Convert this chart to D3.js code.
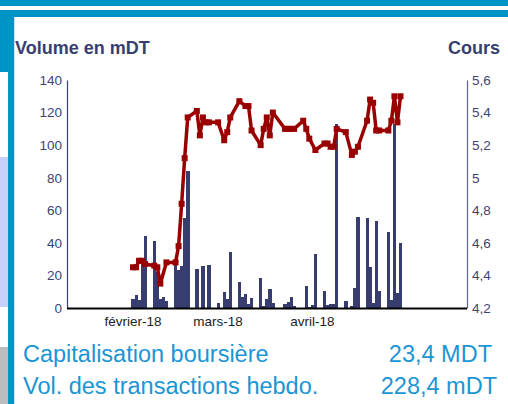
<!DOCTYPE html>
<html>
<head>
<meta charset="utf-8">
<script src="https://cdn.jsdelivr.net/npm/d3@7"></script>
<style>
  html, body { margin: 0; padding: 0; background: #fff; }
  svg { display: block; font-family: Arial, "Liberation Sans", sans-serif; }
</style>
</head>
<body>
<svg id="chart" width="508" height="404"></svg>
<script>
// Daily traded volume (mDT)
const volumeDates = [
  "2018-02-01","2018-02-02","2018-02-03","2018-02-04","2018-02-05","2018-02-08","2018-02-09","2018-02-10",
  "2018-02-11","2018-02-12","2018-02-15","2018-02-16","2018-02-17","2018-02-18","2018-02-19","2018-02-22",
  "2018-02-24","2018-02-26","2018-03-01","2018-03-03","2018-03-04","2018-03-05","2018-03-08","2018-03-09",
  "2018-03-10","2018-03-11","2018-03-12","2018-03-15","2018-03-16","2018-03-17","2018-03-18","2018-03-19",
  "2018-03-23","2018-03-24","2018-03-25","2018-03-26","2018-03-30","2018-03-31","2018-04-01","2018-04-02",
  "2018-04-05","2018-04-06","2018-04-07","2018-04-08","2018-04-09","2018-04-12","2018-04-14","2018-04-15",
  "2018-04-16","2018-04-19","2018-04-20","2018-04-21","2018-04-22","2018-04-23","2018-04-26","2018-04-27",
  "2018-04-28","2018-04-29","2018-04-30"
];
const volumeValues = [
  5.5, 8, 5, 27, 44, 41, 22, 5.5,
  7, 4.5, 27.4, 23.3, 25.8, 55.4, 84, 24,
  25.8, 26.4, 3.2, 9.8, 5.4, 34.4, 16, 6.7,
  8.6, 2.5, 6.3, 18.4, 1, 5.4, 11.7, 3.3,
  2.5, 3.9, 6.7, 1, 13.5, 0.4, 2, 33.2,
  10.4, 1.8, 2.4, 2.3, 113, 4.3, 1.2, 12,
  55.8, 55.2, 25.2, 2.9, 53.4, 10.4, 46.7, 4.9,
  113, 9.2, 40
];

// Closing price (right axis)
const priceDates = [
  "2018-02-01","2018-02-02","2018-02-03","2018-02-04","2018-02-05","2018-02-08","2018-02-09","2018-02-10",
  "2018-02-12","2018-02-15","2018-02-16","2018-02-17","2018-02-18","2018-02-19","2018-02-22","2018-02-23",
  "2018-02-24","2018-02-25","2018-02-26","2018-03-01","2018-03-03","2018-03-04","2018-03-05","2018-03-08",
  "2018-03-10","2018-03-11","2018-03-12","2018-03-15","2018-03-16","2018-03-17","2018-03-18","2018-03-19",
  "2018-03-23","2018-03-24","2018-03-25","2018-03-26","2018-03-29","2018-03-30","2018-03-31","2018-04-02",
  "2018-04-05","2018-04-06","2018-04-07","2018-04-08","2018-04-09","2018-04-12","2018-04-14","2018-04-15",
  "2018-04-16","2018-04-19","2018-04-20","2018-04-21","2018-04-22","2018-04-23","2018-04-26","2018-04-27",
  "2018-04-28","2018-04-29","2018-04-30"
];
const priceValues = [
  4.45, 4.45, 4.49, 4.49, 4.47, 4.46, 4.45, 4.35,
  4.48, 4.48, 4.58, 4.84, 5.12, 5.37, 5.41, 5.26,
  5.37, 5.34, 5.34, 5.34, 5.23, 5.28, 5.37, 5.47,
  5.44, 5.44, 5.29, 5.20, 5.30, 5.37, 5.26, 5.40,
  5.30, 5.30, 5.30, 5.30, 5.35, 5.30, 5.24, 5.17,
  5.21, 5.21, 5.19, 5.19, 5.30, 5.28, 5.14, 5.16,
  5.19, 5.35, 5.48, 5.46, 5.29, 5.29, 5.29, 5.35,
  5.50, 5.34, 5.50
];

// Axis ticks and labels
const volumeTicks = [0, 20, 40, 60, 80, 100, 120, 140];
const priceTicks = [4.2, 4.4, 4.6, 4.8, 5.0, 5.2, 5.4, 5.6];
const priceTickLabels = ["4,2", "4,4", "4,6", "4,8", "5", "5,2", "5,4", "5,6"];
const monthTicks = ["2018-02-01", "2018-03-01", "2018-04-01"];
const monthLabels = ["février-18", "mars-18", "avril-18"];

// Summary lines under the chart
const summaryLabels = ["Capitalisation boursière", "Vol. des transactions hebdo."];
const summaryValues = ["23,4 MDT", "228,4 mDT"];

const parse = d3.utcParse("%Y-%m-%d");
const svg = d3.select("#chart");

const BLUE = "#0093c5";
const NAVY = "#383d70";
const AXIS_TEXT = "#3d4375";
const RED = "#990000";

// Page frame
svg.append("rect").attr("x", 0).attr("y", 0).attr("width", 508).attr("height", 6).attr("fill", BLUE);
svg.append("rect").attr("x", 0).attr("y", 10).attr("width", 508).attr("height", 7).attr("fill", BLUE);
svg.append("rect").attr("x", 0).attr("y", 10).attr("width", 14).attr("height", 62).attr("fill", BLUE);
svg.append("rect").attr("x", 0).attr("y", 157).attr("width", 8).attr("height", 150).attr("fill", "#c9d0f8");
svg.append("rect").attr("x", 0).attr("y", 347).attr("width", 8).attr("height", 57).attr("fill", "#bdbdbd");
svg.append("rect").attr("x", 8).attr("y", 10).attr("width", 6).attr("height", 394).attr("fill", BLUE);
svg.append("rect").attr("x", 14).attr("y", 17).attr("width", 1).attr("height", 387).attr("fill", "#c4e6f2");

// Scales
const x = d3.scaleUtc()
  .domain([new Date(Date.UTC(2018, 0, 10, 7)), new Date(Date.UTC(2018, 4, 21, 21))])
  .range([67, 467]);
const yVol = d3.scaleLinear().domain([0, 140]).range([308, 80]);
const yPrice = d3.scaleLinear().domain([4.2, 5.6]).range([308, 80]);
const dayWidth = x(parse("2018-02-02")) - x(parse("2018-02-01"));

// Volume bars
const volume = volumeDates.map((d, i) => ({ date: parse(d), value: volumeValues[i] }));
svg.append("g")
  .attr("shape-rendering", "crispEdges")
  .selectAll("rect")
  .data(volume)
  .join("rect")
  .attr("x", d => x(d.date) - dayWidth / 2)
  .attr("width", dayWidth + 0.3)
  .attr("y", d => yVol(d.value))
  .attr("height", d => yVol(0) - yVol(d.value))
  .attr("fill", NAVY);

// Price line with square markers
const price = priceDates.map((d, i) => ({ date: parse(d), value: priceValues[i] }));
svg.append("path")
  .datum(price)
  .attr("fill", "none")
  .attr("stroke", RED)
  .attr("stroke-width", 3.5)
  .attr("stroke-linejoin", "round")
  .attr("d", d3.line().x(d => x(d.date)).y(d => yPrice(d.value)));
svg.append("g")
  .selectAll("rect")
  .data(price)
  .join("rect")
  .attr("x", d => x(d.date) - 3)
  .attr("y", d => yPrice(d.value) - 3)
  .attr("width", 6)
  .attr("height", 6)
  .attr("fill", RED);

// Left axis (volume)
const leftAxis = svg.append("g")
  .attr("transform", "translate(67,0)")
  .call(d3.axisLeft(yVol).tickValues(volumeTicks).tickSize(0).tickPadding(5));
leftAxis.select(".domain").attr("stroke", "#3a4072").attr("stroke-width", 1.2);
leftAxis.selectAll("text").attr("fill", AXIS_TEXT).attr("font-size", 13.5)
  .attr("font-family", "Arial, 'Liberation Sans', sans-serif");

// Right axis (price)
const rightAxis = svg.append("g")
  .attr("transform", "translate(467,0)")
  .call(d3.axisRight(yPrice).tickValues(priceTicks).tickSize(0).tickPadding(5)
    .tickFormat((d, i) => priceTickLabels[i]));
rightAxis.select(".domain").attr("stroke", "#5c618e").attr("stroke-width", 1.2);
rightAxis.selectAll("text").attr("fill", AXIS_TEXT).attr("font-size", 13.5)
  .attr("font-family", "Arial, 'Liberation Sans', sans-serif");

// Baseline and month labels
svg.append("line")
  .attr("x1", 67).attr("x2", 467)
  .attr("y1", yVol(0) + 0.5).attr("y2", yVol(0) + 0.5)
  .attr("stroke", "#000").attr("stroke-width", 2);
svg.append("g")
  .selectAll("text")
  .data(monthTicks)
  .join("text")
  .attr("x", d => x(parse(d)))
  .attr("y", 326)
  .attr("text-anchor", "middle")
  .attr("font-size", 13.5)
  .attr("fill", "#222")
  .text((d, i) => monthLabels[i]);

// Axis titles
svg.append("text").attr("x", 15).attr("y", 54)
  .attr("font-size", 18).attr("font-weight", "bold").attr("fill", "#383e6e")
  .text("Volume en mDT");
svg.append("text").attr("x", 500).attr("y", 54).attr("text-anchor", "end")
  .attr("font-size", 18).attr("font-weight", "bold").attr("fill", "#383e6e")
  .text("Cours");

// Summary figures
const summaryRight = [492, 497];
summaryLabels.forEach((label, i) => {
  const yy = 362 + i * 32;
  svg.append("text").attr("x", 23).attr("y", yy)
    .attr("font-size", 23.5).attr("fill", "#1b95d4").text(label);
  svg.append("text").attr("x", summaryRight[i]).attr("y", yy).attr("text-anchor", "end")
    .attr("font-size", 23.5).attr("fill", "#1b95d4").text(summaryValues[i]);
});
</script>
</body>
</html>
